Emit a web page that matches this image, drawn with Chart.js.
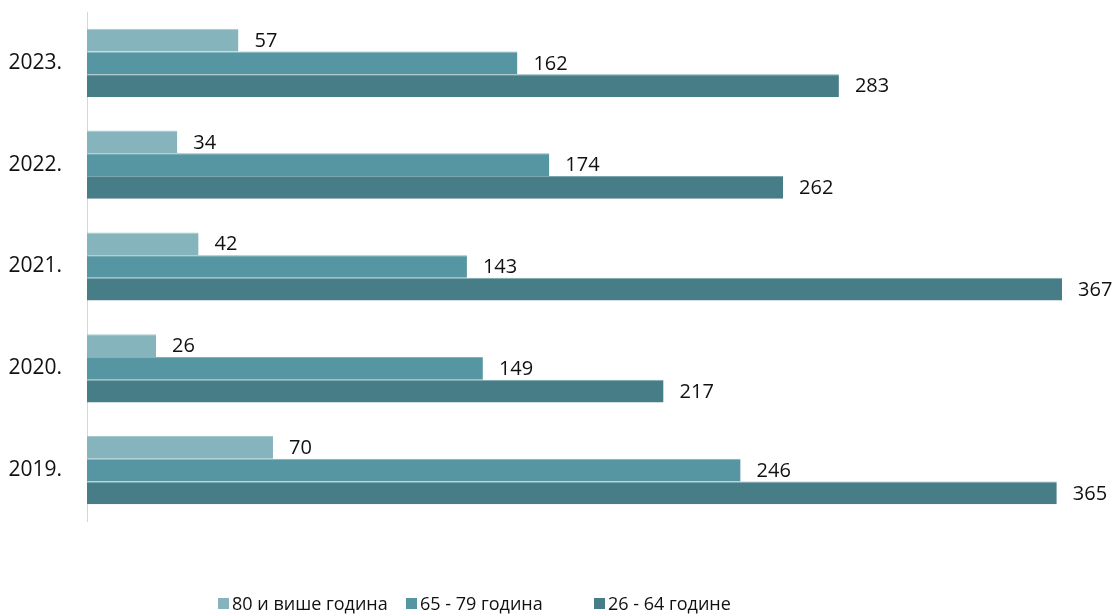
<!DOCTYPE html>
<html>
<head>
<meta charset="utf-8">
<script src="https://cdn.jsdelivr.net/npm/chart.js@4.4.1/dist/chart.umd.min.js"></script>
<style>
    html, body { margin: 0; padding: 0; background: #fff; }
    #wrap { width: 1117px; height: 615px; }
</style>
</head>
<body>
<div id="wrap"><canvas id="ageChart" width="1117" height="615"></canvas></div>
<script>
// years, top to bottom
const years = ['2023.', '2022.', '2021.', '2020.', '2019.'];
const seriesNames = ['80 и више година', '65 - 79 година', '26 - 64 године'];
const over80 = [57, 34, 42, 26, 70];
const age65to79 = [162, 174, 143, 149, 246];
const age26to64 = [283, 262, 367, 217, 365];

const FONT = "'Open Sans', 'DejaVu Sans', sans-serif";

// value labels just right of each bar end
const barLabels = {
    id: 'barLabels',
    afterDatasetsDraw(chart) {
        const ctx = chart.ctx;
        ctx.save();
        ctx.font = '20px ' + FONT;
        ctx.fillStyle = '#111';
        ctx.textAlign = 'left';
        ctx.textBaseline = 'middle';
        chart.data.datasets.forEach((ds, i) => {
            chart.getDatasetMeta(i).data.forEach((bar, j) => {
                ctx.fillText(String(ds.data[j]), bar.x + 16, bar.y + 1);
            });
        });
        ctx.restore();
    },
};

// legend row under the chart, spaced like the original (fixed slot per item)
const legendRow = {
    id: 'legendRow',
    afterDraw(chart) {
        const ctx = chart.ctx;
        const startX = 218;
        const slot = 188;
        const y = 604;
        ctx.save();
        ctx.font = '18px ' + FONT;
        ctx.textAlign = 'left';
        ctx.textBaseline = 'middle';
        chart.data.datasets.forEach((ds, i) => {
            const x = startX + i * slot;
            ctx.fillStyle = ds.backgroundColor;
            ctx.fillRect(x, y - 6, 11, 11);
            ctx.fillStyle = '#111';
            ctx.fillText(ds.label, x + 14, y + 1);
        });
        ctx.restore();
    },
};

new Chart(document.getElementById('ageChart').getContext('2d'), {
    type: 'bar',
    data: {
        labels: years,
        datasets: [
            {
                label: seriesNames[0],
                data: over80,
                backgroundColor: '#85b4bd',
                borderColor: '#a6c9d0',
            },
            {
                label: seriesNames[1],
                data: age65to79,
                backgroundColor: '#5596a2',
                borderColor: '#80b2bb',
            },
            {
                label: seriesNames[2],
                data: age26to64,
                backgroundColor: '#477d87',
                borderColor: '#7aa6ae',
            },
        ],
    },
    options: {
        indexAxis: 'y',
        responsive: false,
        animation: false,
        datasets: {
            bar: {
                categoryPercentage: 0.67,
                barPercentage: 1,
                borderWidth: { top: 1, right: 0, bottom: 0, left: 0 },
                borderSkipped: false,
            },
        },
        layout: { padding: { top: 12, left: 9, right: 31, bottom: 94 } },
        plugins: {
            tooltip: { enabled: false },
            legend: { display: false },
        },
        scales: {
            x: {
                display: false,
                min: 0,
                max: 376,
            },
            y: {
                afterFit(scale) {
                    scale.width = 78;
                    scale.paddingTop = 0;
                    scale.paddingBottom = 0;
                },
                grid: { display: false, drawTicks: false },
                border: { display: true, color: '#d6d6d6', width: 1 },
                ticks: {
                    padding: 25,
                    color: '#111',
                    font: { family: FONT, size: 21 },
                },
            },
        },
    },
    plugins: [barLabels, legendRow],
});
</script>
</body>
</html>
